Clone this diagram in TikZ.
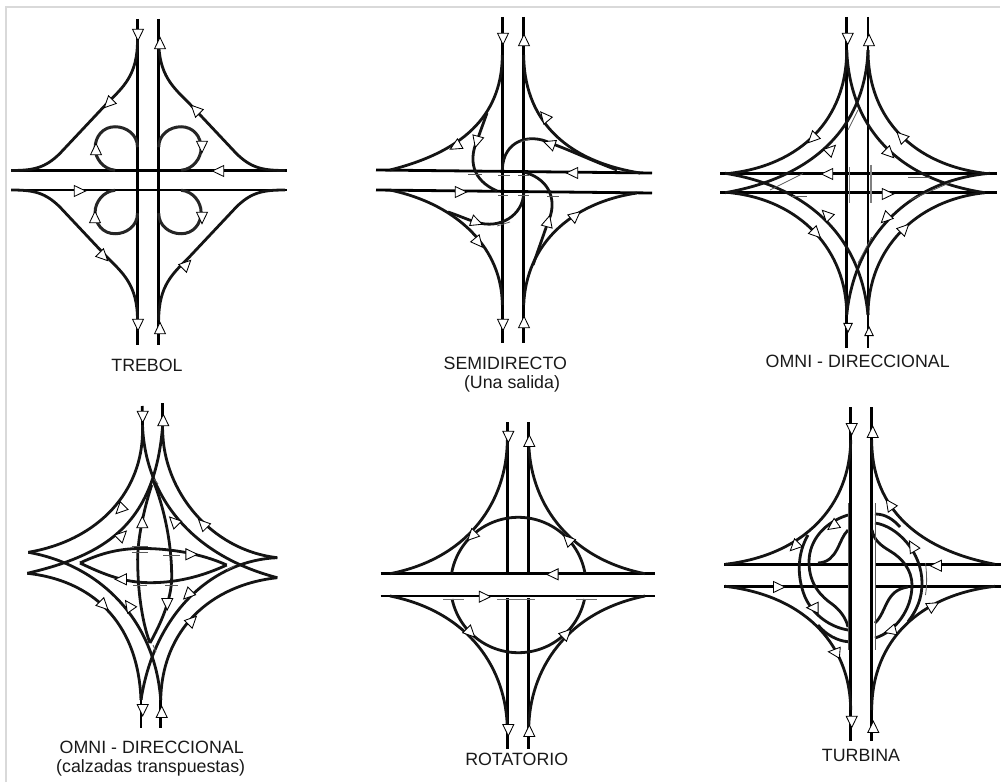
\documentclass[tikz,border=0pt]{standalone}
\usepackage{fontspec}
\setmainfont{Liberation Sans}
\newcommand{\arw}[3]{\draw[tipmark,shift={(#1,#2)},rotate=#3] (6.6,0)--(-4.8,5.5)--(-4.8,-5.5)--cycle;}
\newcommand{\sarw}[3]{\draw[tipmark,shift={(#1,#2)},rotate=#3] (5.2,0)--(-3.6,4.2)--(-3.6,-4.2)--cycle;}
\tikzset{
  road/.style={line width=2.8pt,black,line cap=butt},
  ramp/.style={line width=2.8pt,black!92},
  tick/.style={line width=.8pt,black!65},
  tipmark/.style={draw=black,fill=white,line width=.85pt,line join=miter},
  title/.style={font=\fontsize{17.8}{20}\selectfont,text=black!90,anchor=base,inner sep=0pt}
}
\begin{document}
\begin{tikzpicture}[x=1pt,y=-1pt]
\useasboundingbox (0,0) rectangle (1003,783);
% frame
\draw[line width=2pt,black!15] (6,782) -- (6,7) -- (1000,7);

% ---------- TREBOL
\draw[road] (137.5,19) -- (137.5,345);
\draw[road] (158.7,19) -- (158.7,345);
\draw[road] (11,170.5) -- (287,170.5);
\draw[road] (11,190) -- (287,190);
\foreach \sx/\sy in {1/1,-1/1,1/-1,-1/-1}{
  \begin{scope}[shift={(148.1,180.25)},xscale=\sx,yscale=\sy]
    \draw[ramp] (-10.6,-140) .. controls (-10.6,-105) and (-25,-93) .. (-41,-77) -- (-88,-27) .. controls (-103,-12) and (-115,-9.75) .. (-137,-9.75);
    \draw[line width=3pt,black!85] (-10.6,-33) .. controls (-10.6,-46) and (-22,-53.5) .. (-33,-53.5) .. controls (-45,-53.5) and (-53,-44) .. (-53,-32) .. controls (-53,-22) and (-45,-11) .. (-33,-10);
  \end{scope}
}
\arw{138}{34}{270}\arw{160}{44}{90}\arw{109}{103}{225}\arw{196}{110}{135}
\arw{219}{171}{180}\arw{79}{191}{0}\arw{96}{150}{90}\arw{202}{146}{270}
\arw{202}{217}{270}\arw{95}{218}{90}\arw{103}{256}{315}\arw{186}{265}{45}
\arw{138}{324}{270}\arw{160}{329}{90}
\node[title] (t1) at (147,371.7) {TREBOL};

% ---------- SEMIDIRECTO
\draw[road] (502.3,17) -- (502.3,343);
\draw[road] (523.7,17) -- (523.7,343);
\draw[road] (376,170) -- (652,173);
\draw[road] (376,190) -- (652,193);
\draw[ramp] (502.3,55) .. controls (502,110) and (470,150) .. (390,170);
\draw[ramp] (523.7,55) .. controls (524,115) and (560,160) .. (640,173);
\draw[ramp] (390,190) .. controls (460,205) and (502,250) .. (502.3,305);
\draw[ramp] (637,193) .. controls (570,203) and (526,245) .. (523.7,305);
\draw[ramp] (487,113) -- (478,138) .. controls (468,160) and (472,180) .. (497,191);
\draw[ramp] (617,170) .. controls (590,160) and (570,150) .. (550,143) .. controls (530,133) and (503,140) .. (502.3,170);
\draw[ramp] (533,265) -- (548,222) .. controls (557,203) and (552,180) .. (524,172);
\draw[ramp] (448,212) .. controls (460,216) and (468,220) .. (476,222) .. controls (500,230) and (523,215) .. (523.7,193);
\foreach \a/\b/\c/\d in {468/174/482/174,498/175/510/175,518/175/529/175,498/195/508/195,518/195/529/195,547/196/559/196,497/226/510/222,520/142/530/139}{
  \draw[tick] (\a,\b) -- (\c,\d);
}
\arw{503}{38}{270}\arw{524}{41}{90}\arw{456}{146}{210}\arw{545}{117}{130}
\arw{550}{144}{160}\arw{477}{141}{255}\arw{573}{173}{180}\arw{460}{192}{0}
\arw{476}{222}{340}\arw{478}{242}{310}\arw{548}{222}{75}\arw{575}{216}{40}
\arw{503}{324}{270}\arw{524}{323}{90}
\node[title] (t2) at (505.3,369) {SEMIDIRECTO};
\node[title] (t2b) at (512,388.5) {(Una salida)};

% ---------- OMNI
\draw[road] (846.7,17) -- (846.7,348);
\draw[road] (868,17) -- (868,348);
\draw[road] (720,173.3) -- (997,173.3);
\draw[road] (720,192.7) -- (997,192.7);
\draw[ramp] (846.7,50) .. controls (846.7,120) and (800,165) .. (730,173.3);
\draw[ramp] (868,50) .. controls (868,120) and (915,165) .. (985,173.3);
\draw[ramp] (730,192.7) .. controls (800,200) and (846.7,250) .. (846.7,315);
\draw[ramp] (985,192.7) .. controls (915,200) and (868,250) .. (868,315);
\draw[ramp] (846.7,50) .. controls (850,130) and (900,180) .. (985,192.7);
\draw[ramp] (868,50) .. controls (865,130) and (810,178) .. (725,192.7);
\draw[ramp] (725,173.3) .. controls (800,185) and (860,230) .. (868,315);
\draw[ramp] (990,173.3) .. controls (910,180) and (855,235) .. (846.7,315);
\foreach \a/\b/\c/\d in {908/177/930/177,791.7/196.7/806.7/196.7,770/190/803/173.5,910/200/950/182.7,848/130/858/110,858/263/871.7/237}{
  \draw[tick] (\a,\b) -- (\c,\d);
}
\draw[line width=1.6pt,black!50] (849.3,167) -- (849.3,203);
\draw[line width=1.6pt,black!50] (871,165) -- (871,203);
\arw{847.7}{38}{270}\arw{869}{41}{90}\arw{813}{138}{225}\arw{830.7}{150}{45}
\arw{901.7}{137}{135}\arw{889}{153}{315}\arw{828}{174}{180}\arw{887}{194}{0}
\arw{827}{215}{135}\arw{886}{218}{225}\arw{815.7}{233}{315}\arw{904}{229}{45}
\sarw{848}{327}{270}\sarw{869}{332}{90}
\node[title] (t3) at (857.7,367.7) {OMNI - DIRECCIONAL};

% ---------- OMNI transpuestas
\draw[road] (142.3,406) -- (142.5,430);
\draw[road] (162.7,403.3) -- (162.7,430);
\draw[road] (141,700) -- (141,727.7);
\draw[road] (160.7,700) -- (160.7,727.7);
\draw[ramp] (142.5,430) .. controls (143,490) and (100,540) .. (28.3,552.3);
\draw[ramp] (162.7,430) .. controls (163,490) and (210,550) .. (277.3,557.7);
\draw[ramp] (27.3,573.3) .. controls (90,580) and (138,620) .. (141,700);
\draw[ramp] (277.3,577.7) .. controls (210,585) and (162,630) .. (160.7,700);
\draw[ramp] (142.5,425) .. controls (145,495) and (190,555) .. (277.3,577.7);
\draw[ramp] (162.7,425) .. controls (155,525) and (105,555) .. (27.3,573.3);
\draw[ramp] (28.3,552.3) .. controls (100,565) and (155,620) .. (160.7,700);
\draw[ramp] (277.3,557.7) .. controls (215,560) and (155,610) .. (141,700);
\draw[ramp] (80,563) .. controls (105,551) and (125,548) .. (146.7,548.5) .. controls (170,549) and (200,553) .. (226.7,565);
\draw[ramp] (80,563) .. controls (105,575) and (125,582.7) .. (150,582.7) .. controls (180,582.7) and (205,575) .. (226.7,565);
\draw[ramp] (151.7,485) .. controls (142,515) and (137,545) .. (137.7,563) .. controls (138,595) and (143,625) .. (150,643);
\draw[ramp] (153,480) .. controls (165,510) and (171.7,545) .. (171.7,577) .. controls (171.7,600) and (160,625) .. (150,643);
\foreach \a/\b/\c/\d in {131.7/546/148.3/546,131.7/552/148.3/552,163/555/180/555,133/585.7/146.7/585.7,165/585.7/178/585.7,227/570/234/566,154/479/158/484,153/645/156/652}{
  \draw[tick] (\a,\b) -- (\c,\d);
}
\arw{142.7}{416}{270}\arw{163.3}{421}{90}\arw{120.7}{509}{225}\arw{121.7}{535.7}{45}
\arw{142.3}{523}{90}\arw{174.3}{521.7}{135}\arw{203.3}{524.3}{135}\arw{190.7}{554.3}{0}
\arw{121.7}{579.3}{180}\arw{103.3}{605}{315}\arw{129.3}{606}{125}\arw{167.3}{603.3}{270}
\arw{188.3}{594.3}{225}\arw{191.7}{621}{45}\arw{142.7}{709.3}{270}\arw{161.7}{712.7}{90}
\node[title] (t4) at (151.7,753.3) {OMNI - DIRECCIONAL};
\node[title] (t4b) at (150.7,772.7) {(calzadas transpuestas)};

% ---------- ROTATORIO
\draw[road] (507.3,422.3) -- (507.3,571.7);
\draw[road] (528.7,422.3) -- (528.7,571.7);
\draw[road] (507.3,598.3) -- (507.3,749);
\draw[road] (528.7,598.3) -- (528.7,749);
\draw[road] (380.7,573.7) -- (655.3,573.7);
\draw[road] (380.7,596) -- (655.3,596);
\draw[ramp] (507.3,440) .. controls (507,500) and (470,558) .. (390,573.7);
\draw[ramp] (528.7,440) .. controls (529,500) and (566,558) .. (645,573.7);
\draw[ramp] (390,596) .. controls (470,612) and (507,670) .. (507.3,730);
\draw[ramp] (645,596) .. controls (566,612) and (529,670) .. (528.7,730);
\draw[ramp,shift={(518.3,585)}] plot[domain=-170:-10,samples=70] ({67.7*cos(\x)},{67.7*sin(\x)});
\draw[ramp,shift={(518.3,585)}] plot[domain=12:168,samples=70] ({67.7*cos(\x)},{67.7*sin(\x)});
\foreach \a/\b in {443.3/464,497.3/535,576/597.3}{
  \draw[line width=1pt,black!55] (\a,599) -- (\b,599);
}
\arw{508.3}{436}{270}\arw{529.3}{441.7}{90}\arw{472.3}{535.7}{225}\arw{568.3}{540}{135}
\arw{553.3}{574.3}{180}\arw{484}{596.7}{0}\arw{470}{632.3}{315}\arw{566}{634}{45}
\arw{508.3}{729.3}{270}\arw{529.3}{731.7}{90}
\node[title] (t5) at (516.7,765.7) {ROTATORIO};

% ---------- TURBINA
\draw[road] (850.7,407.3) -- (850.7,740.7);
\draw[road] (871.7,407.3) -- (871.7,740.7);
\draw[road] (724.3,564.3) -- (848.3,564.3);
\draw[road] (724.3,586.3) -- (848.3,586.3);
\draw[road] (875,564.3) -- (1001,564.3);
\draw[road] (875,586.3) -- (1001,586.3);
\draw[ramp] (850.7,440) .. controls (850,505) and (805,555) .. (725,564.3);
\draw[ramp] (871.7,440) .. controls (871.7,510) and (920,550) .. (995,564.3);
\draw[ramp] (725,586.3) .. controls (800,595) and (850,640) .. (850.7,710);
\draw[ramp] (995,586.3) .. controls (920,595) and (872,640) .. (871.7,710);
% left strands
\draw[ramp] (808,535) .. controls (798,552) and (796,575) .. (805,597) .. controls (813,615) and (830,627) .. (848,630);
\draw[ramp] (848,515) .. controls (825,522) and (809,540) .. (809,562) .. controls (809,585) and (822,597) .. (832,604) .. controls (840,610) and (846,618) .. (848,627);
\draw[ramp] (848,530) .. controls (838,540) and (838,562) .. (818,563);
\draw[ramp] (818,625) .. controls (826,635) and (838,641) .. (848,641.7);
% right strands
\draw[ramp] (875,514) .. controls (885,514) and (893,519) .. (900,527);
\draw[ramp] (875,523) .. controls (897,526) and (922,552) .. (922,583) .. controls (922,598) and (917,610) .. (908,621.7);
\draw[ramp] (872,530) .. controls (874,540) and (880,545) .. (890,551) .. controls (902,558) and (912,570) .. (912,585) .. controls (912,610) and (895,632) .. (875,638);
\draw[ramp] (875,623) .. controls (887,612) and (885,590) .. (908,587);
\draw[tick] (848.3,503) -- (848.3,650);
\draw[tick] (875.3,503) -- (875.3,650);
\draw[tick] (925.5,563) .. controls (927,575) and (927,585) .. (925.5,595);
\arw{851.7}{428.3}{270}\arw{872.7}{432.7}{90}\arw{795}{546}{225}\arw{833.3}{525.7}{215}
\arw{890}{505}{125}\arw{912.7}{546.7}{120}\arw{936.7}{565.7}{180}\arw{778.3}{587}{0}
\arw{813.3}{607.7}{180}\arw{835}{652.3}{175}\arw{891}{630.7}{195}\arw{932.7}{606}{30}
\arw{851.7}{721}{270}\arw{873.3}{727.7}{90}
\node[title] (t6) at (861,761.7) {TURBINA};
\end{tikzpicture}
\end{document}
